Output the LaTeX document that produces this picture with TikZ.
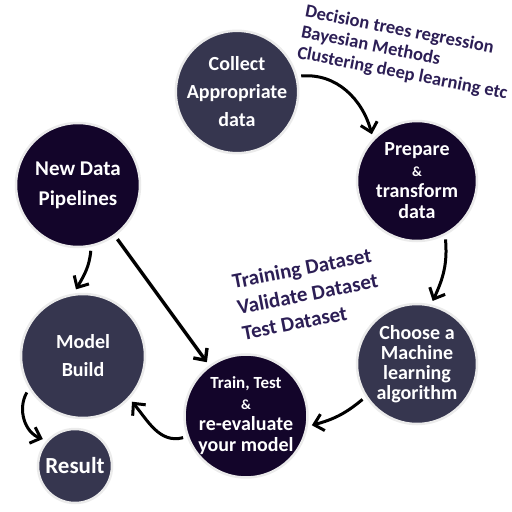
\documentclass[tikz,border=0pt]{standalone}
\usepackage{fontspec}
\setmainfont{Carlito}
\usepackage{xcolor}
\usepackage{tikz}
\usetikzlibrary{arrows.meta,positioning}
\definecolor{darknavy}{HTML}{13052A}
\definecolor{slate}{HTML}{36364F}
\definecolor{notepurple}{HTML}{2C1E55}
\tikzstyle{stage} = [circle, draw=black!8, line width=2.5pt, minimum size=122pt, inner sep=0pt, outer sep=5pt, align=center, text=white, font=\bfseries\fontsize{20}{21}\selectfont]
\tikzstyle{note} = [text=notepurple, align=left, anchor=west]
\tikzstyle{arrow} = [-{Straight Barb[length=9pt, width=17pt]}, line width=3pt]

\begin{document}
\begin{tikzpicture}[x=1pt, y=-1pt]
\useasboundingbox (0,0) rectangle (512,512);
\node[stage, fill=slate, font=\bfseries\fontsize{20}{28}\selectfont] (collect) at (237,92) {Collect\\Appropriate\\data};
\node[stage, fill=darknavy, minimum size=120pt] (prepare) at (417,181) {Prepare\\{\fontsize{14}{20}\selectfont \&}\\transform\\data};
\node[stage, fill=slate, minimum size=120pt, font=\bfseries\fontsize{20}{20}\selectfont] (choose) at (417,364) {Choose a\\Machine\\learning\\algorithm};
\node[stage, fill=darknavy] (train) at (246,416) {{\fontsize{17}{21}\selectfont Train, Test}\\{\fontsize{14}{20}\selectfont \&}\\re-evaluate\\your model};
\node[stage, fill=slate, minimum size=124pt, font=\bfseries\fontsize{20}{28}\selectfont] (model) at (83,356) {Model\\Build};
\node[stage, fill=slate, minimum size=74pt, font=\bfseries\fontsize{23}{26}\selectfont] (result) at (75,466) {Result};
\node[stage, fill=darknavy, minimum size=124pt, font=\bfseries\fontsize{21}{30}\selectfont] (pipelines) at (78,185) {New Data\\Pipelines};

\node[note, rotate=-11, font=\bfseries\fontsize{18.5}{21}\selectfont] (methods) at (298,32) {Decision trees regression\\Bayesian Methods\\Clustering deep learning etc};
\node[note, rotate=11, font=\bfseries\fontsize{21}{26}\selectfont] (datasets) at (234,308) {Training Dataset\\Validate Dataset\\Test Dataset};

\draw[arrow] (collect.14) to[out=5, in=105] (prepare.134);
\draw[arrow] (prepare.-64) to[out=-85, in=65] (choose.76);
\draw[arrow] (choose.213) to[out=220, in=15] (train.-8);
\draw[arrow] (train.199) to[out=195, in=-50] (model.-43);
\draw[arrow] (model.213) to[out=240, in=160] (result.140);
\draw[arrow] (pipelines.-79) to[out=-95, in=60] (model.96);
\draw[arrow, line width=3.4pt] (pipelines) -- (train);
\end{tikzpicture}
\end{document}
